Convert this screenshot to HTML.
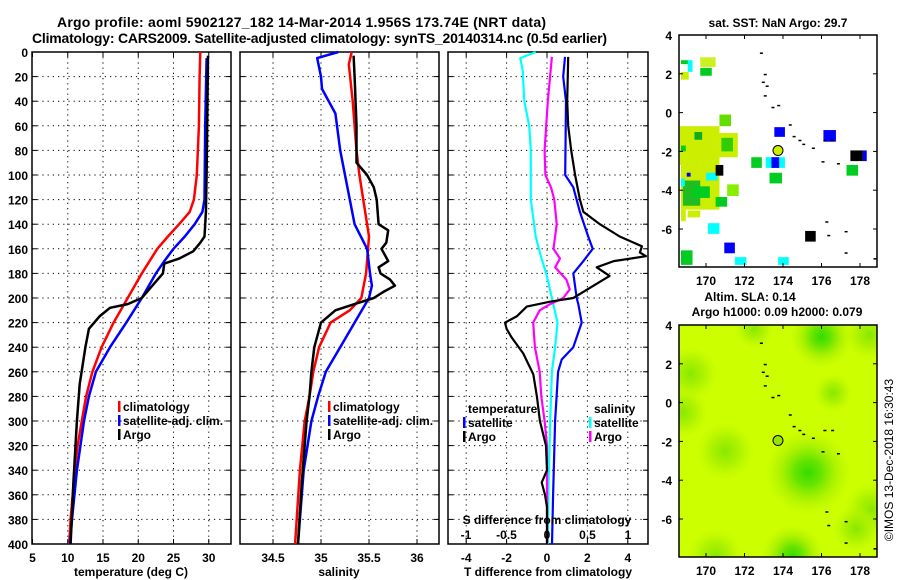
<!DOCTYPE html>
<html><head><meta charset="utf-8"><style>
html,body{margin:0;padding:0;background:#fff;}
svg{display:block;font-family:"Liberation Sans",sans-serif;font-weight:bold;}
</style></head><body>
<svg id="c" width="900" height="580" viewBox="0 0 900 580" xmlns="http://www.w3.org/2000/svg">
<defs>
<radialGradient id="g1"><stop offset="0" stop-color="#33dd00"/><stop offset="0.3" stop-color="#66e400"/><stop offset="0.65" stop-color="#a6f000" stop-opacity="0.8"/><stop offset="1" stop-color="#b8f400" stop-opacity="0"/></radialGradient>
<radialGradient id="g2"><stop offset="0" stop-color="#88e800"/><stop offset="0.5" stop-color="#a6f000" stop-opacity="0.8"/><stop offset="1" stop-color="#bcf600" stop-opacity="0"/></radialGradient>
<clipPath id="mclip"><rect x="679" y="325" width="198" height="232"/></clipPath>
</defs>
<text x="57" y="27" font-size="14" textLength="489">Argo profile: aoml 5902127_182 14-Mar-2014 1.956S 173.74E (NRT data)</text>
<text x="32" y="43" font-size="14" textLength="575">Climatology: CARS2009. Satellite-adjusted climatology: synTS_20140314.nc (0.5d earlier)</text>
<g id="p1"></g>
<g id="p2"></g>
<g id="p3"></g>
<g id="m1"></g>
<g id="m2"></g>
<text transform="translate(893,460) rotate(-90)" font-size="12" font-weight="normal" text-anchor="middle">©IMOS 13-Dec-2018 16:30:43</text>
</svg>
<script>
// ---------- data ----------
const depthTclim=[0,20,60,100,120,130,140,150,160,180,200,220,240,260,280,300,320,340,360,380,400];
const tempClim=[28.8,28.7,28.6,28.3,27.9,27.3,25.8,24.2,22.7,20.5,18.5,16.5,14.8,13.5,12.6,12.0,11.4,11.0,10.7,10.4,10.2];
const depthTsat=[5,60,120,130,140,150,160,170,180,200,220,240,260,280,300,340,380,400];
const tempSat=[29.7,29.5,29.4,29.1,28,26.6,25,23.7,22.5,20.5,18.3,16,14,13,12.3,11.3,10.6,10.3];
const depthTargo=[3,100,130,150,155,162,168,172,180,190,200,205,208,215,225,240,270,300,350,400];
const tempArgo=[29.9,29.7,29.6,29.4,28.8,27.8,25.8,23.7,23.5,22,20.5,18.5,16,14.5,13,12.5,11.7,11.3,10.8,10.4];

const depthSclim=[0,10,40,80,100,140,150,180,200,210,220,240,260,280,300,340,400];
const salClim=[35.32,35.29,35.33,35.37,35.40,35.48,35.50,35.47,35.42,35.3,35.1,34.98,34.92,34.88,34.83,34.78,34.73];
const depthSsat=[0,5,20,30,50,80,100,140,160,180,190,200,220,240,260,280,300,340,400];
const salSat=[35.18,34.96,35.0,35.01,35.15,35.2,35.25,35.35,35.48,35.51,35.53,35.5,35.35,35.2,35.05,34.97,34.9,34.82,34.76];
const depthSargo=[3,20,60,90,100,110,120,140,145,155,160,170,175,180,185,190,195,200,205,210,220,240,260,280,300,350,400];
const salArgo=[35.34,35.35,35.37,35.37,35.48,35.55,35.58,35.6,35.70,35.68,35.63,35.70,35.60,35.62,35.72,35.77,35.65,35.55,35.35,35.15,35.0,34.93,34.9,34.88,34.85,34.8,34.76];

const depthDsSat=[0,5,15,40,60,80,120,150,165,180,200,220,240,260,300,350,400];
const dSalSat=[-0.14,-0.33,-0.3,-0.28,-0.22,-0.2,-0.2,-0.14,-0.08,-0.01,0.06,0.13,0.1,0.06,0.04,0.02,0.01];
const depthDsArgo=[4,40,80,100,110,120,140,160,168,175,185,193,200,205,210,220,240,260,280,300,320,400];
const dSalArgo=[0.06,0.01,-0.03,-0.02,0.05,0.09,0.12,0.08,0.16,0.1,0.24,0.28,0.2,0.04,-0.09,-0.17,-0.15,-0.09,-0.07,-0.03,0,0];
const depthDtSat=[4,20,40,100,110,130,150,160,170,180,200,205,220,240,250,260,300,360,400];
const dTempSat=[0.89,0.8,0.94,0.9,1.3,1.63,2.04,2.26,1.8,1.3,1.47,1.55,1.72,1.3,0.73,0.55,0.4,0.3,0.25];
const depthDtArgo=[4,40,60,80,100,120,130,140,150,158,163,166,170,175,182,190,200,203,207,215,220,225,232,245,262,280,300,320,340,350,360,370,400];
const dTempArgo=[1.05,1.0,1.05,1.2,1.39,1.63,1.8,2.62,3.6,4.7,4.6,4.9,3.3,2.46,3.1,2.3,1.3,0.15,-1.0,-1.5,-2.08,-2.0,-1.75,-1.18,-0.68,-0.5,-0.35,-0.05,0,-0.26,-0.1,0,0];

const depthTicks=[0,20,40,60,80,100,120,140,160,180,200,220,240,260,280,300,320,340,360,380,400];
const tempTicks=[5,10,15,20,25,30];
const salTicks=[34.5,35,35.5,36];
const salTickLabels=["34.5","35","35.5","36"];
const dTTicks=[-4,-2,0,2,4];
const dSTicks=[-1,-0.5,0,0.5,1];
const dSTickLabels=["-1","-0.5","0","0.5","1"];
const lonTicks=[170,172,174,176,178];
const latTicks=[4,2,0,-2,-4,-6];
// map cells: lon0, lon1, lat0, lat1, colour
const sstCells=[
[168.7,169.1,2.5,2.7,"#00cc22"],[169.05,169.3,2.1,2.7,"#00ffff"],[168.7,169.1,1.7,2.1,"#ccee00"],
[169.7,170.5,2.35,2.85,"#ccf020"],[169.7,170.3,1.9,2.3,"#00cc22"],[170.7,171.3,-0.7,-0.1,"#66dd00"],
[168.65,170.7,-2.7,-0.7,"#ccee00"],[170.7,171.65,-2.3,-1.05,"#ccee00"],[170.8,171.4,-2.0,-1.3,"#33cc00"],
[169.4,169.8,-1.4,-1.0,"#11aa22"],[168.7,168.95,-2.0,-1.7,"#00cc22"],
[168.7,170.7,-5.0,-2.7,"#ccee00"],[168.8,169.7,-4.8,-3.5,"#22bb22"],[169.3,170.2,-4.4,-3.8,"#00cc22"],
[168.7,168.9,-3.8,-3.4,"#00ffff"],[170.0,170.6,-3.5,-3.1,"#00ffff"],[169.0,169.2,-3.3,-3.1,"#0000ff"],
[170.5,171.1,-4.85,-4.35,"#00cc22"],[171.1,171.7,-4.3,-3.7,"#88ee00"],[170.5,170.9,-3.25,-2.7,"#000000"],
[172.35,172.9,-2.85,-2.3,"#00cc22"],[173.1,174.1,-2.85,-2.3,"#00ffff"],[173.4,173.8,-2.85,-2.3,"#0000ff"],
[173.3,173.95,-3.65,-3.1,"#00cc22"],[173.55,174.1,-1.25,-0.75,"#0000ff"],[176.1,176.75,-1.5,-0.9,"#0000ff"],
[177.5,178.15,-2.5,-1.95,"#000000"],[178.15,178.35,-2.5,-1.95,"#0000ff"],[177.3,177.9,-3.25,-2.7,"#00cc22"],
[175.15,175.7,-6.65,-6.1,"#000000"],[170.1,170.7,-6.25,-5.7,"#00ffff"],[170.95,171.5,-7.25,-6.7,"#0000ff"],
[168.7,169.3,-7.85,-7.1,"#00cc22"],[171.5,172.1,-7.85,-7.45,"#00ffff"],[173.75,174.3,-7.85,-7.45,"#00ffff"],
[168.7,168.95,-5.6,-5.0,"#ccee00"],[169.05,169.7,-5.4,-5.05,"#ccee00"]];
const coastLon=[172.8,173.0,172.9,173.1,173.0,173.4,173.7,174.3,174.5,174.8,175.0,175.5,176.1,176.5,176.0,176.8,176.2,177.2,176.3,177.2,178.7];
const coastLat=[3.1,2.0,1.6,1.4,0.9,0.3,0.4,-0.6,-1.2,-1.4,-1.6,-1.8,-1.4,-1.4,-2.5,-2.6,-5.6,-6.1,-6.3,-7.2,-7.5];
const argoLon=173.74, argoLat=-1.956;
const slaBlobLon=[175.3,176.0,171.0,174.5,169.2,178.5,172.5,168.8,170.5,178.6,177.8,176.6];
const slaBlobLat=[-3.6,3.4,-2.5,-7.9,1.5,3.5,3.8,-0.5,-7.9,-5.5,-6.5,0.5];
const slaBlobR=[2.2,1.6,1.5,1.6,1.4,1.3,1.0,1.3,1.4,1.4,1.2,1.0];
const slaBlobStrong=[1,1,0,1,0,0,0,0,0,0,0,0];

// ---------- helpers ----------
const NS="http://www.w3.org/2000/svg";
function mk(parent,tag,attrs){const e=document.createElementNS(NS,tag);for(const k in attrs)e.setAttribute(k,attrs[k]);parent.appendChild(e);return e;}
const Y0=52,Y1=544;
const yD=d=>Y0+(d/400)*(Y1-Y0);
function panel(g,x0,x1,xs,ticks,labels,grid){
  mk(g,'rect',{x:x0,y:Y0,width:x1-x0,height:Y1-Y0,fill:'#fff',stroke:'#000','stroke-width':1.5});
  depthTicks.forEach(d=>{if(d>0&&d<400){const l=mk(g,'line',{x1:x0,x2:x1,y1:yD(d),y2:yD(d),stroke:'#000','stroke-dasharray':'1.2,4'});
    }
    mk(g,'line',{x1:x0,x2:x0+5,y1:yD(d),y2:yD(d),stroke:'#000'});mk(g,'line',{x1:x1-5,x2:x1,y1:yD(d),y2:yD(d),stroke:'#000'});});
  ticks.forEach((t,i)=>{const x=xs(t);
    if(grid&&x>x0+2&&x<x1-2){const l=mk(g,'line',{x1:x,x2:x,y1:Y0,y2:Y1,stroke:'#000','stroke-dasharray':'1.2,4'});
      }
    mk(g,'line',{x1:x,x2:x,y1:Y1-5,y2:Y1,stroke:'#000'});mk(g,'line',{x1:x,x2:x,y1:Y0,y2:Y0+5,stroke:'#000'});
    const t2=mk(g,'text',{x:x,y:562,'font-size':12,'text-anchor':'middle'});t2.textContent=labels[i];
    });
}
function line(g,xs,vals,deps,color,w,name){
  const d=vals.map((v,i)=>(i?'L':'M')+xs(v).toFixed(1)+','+yD(deps[i]).toFixed(1)).join('');
  const p=mk(g,'path',{d:d,fill:'none',stroke:color,'stroke-width':w,'stroke-linejoin':'round'});
  
}
function txt(g,x,y,s,sz,anchor,name){const t=mk(g,'text',{x:x,y:y,'font-size':sz,'text-anchor':anchor||'start'});t.textContent=s;
  return t;}
function legend(g,x,y,color,label){mk(g,'rect',{x:x,y:y-10,width:2.5,height:11,fill:color});
  txt(g,x+5,y,label,12,'start','legend-entry');}

// ---------- panel 1 ----------
const p1=document.getElementById('p1');
const xT=t=>32.5+(t-5)*7.05;
panel(p1,32,231,xT,tempTicks,tempTicks.map(String),true);
depthTicks.forEach(d=>{txt(p1,28,yD(d)+5,String(d),12,'end','y-tick-label');});
line(p1,xT,tempClim,depthTclim,'#ff0000',2.5,'climatology-temperature-line');
line(p1,xT,tempSat,depthTsat,'#0000ff',2.5,'satellite-temperature-line');
line(p1,xT,tempArgo,depthTargo,'#000000',2.5,'argo-temperature-line');
legend(p1,118,411,'#f00','climatology');legend(p1,118,425,'#00f','satellite-adj. clim.');legend(p1,118,439,'#000','Argo');
txt(p1,131,576,'temperature (deg C)',12,'middle','x-axis-title');

// ---------- panel 2 ----------
const p2=document.getElementById('p2');
const xS=s=>321+(s-35)*96;
panel(p2,240,439,xS,salTicks,salTickLabels,true);
line(p2,xS,salClim,depthSclim,'#ff0000',2.5,'climatology-salinity-line');
line(p2,xS,salSat,depthSsat,'#0000ff',2.5,'satellite-salinity-line');
line(p2,xS,salArgo,depthSargo,'#000000',2.5,'argo-salinity-line');
legend(p2,328,411,'#f00','climatology');legend(p2,328,425,'#00f','satellite-adj. clim.');legend(p2,328,439,'#000','Argo');
txt(p2,339,576,'salinity',12,'middle','x-axis-title');

// ---------- panel 3 ----------
const p3=document.getElementById('p3');
const xDT=t=>547+t*20.2, xDS=s=>547+s*81;
panel(p3,448,648,xDT,dTTicks,dTTicks.map(String),true);
line(p3,xDS,dSalSat,depthDsSat,'#00ffff',2.2,'satellite-salinity-diff-line');
line(p3,xDS,dSalArgo,depthDsArgo,'#ff00ff',2.2,'argo-salinity-diff-line');
line(p3,xDT,dTempSat,depthDtSat,'#0000ff',2.2,'satellite-temperature-diff-line');
line(p3,xDT,dTempArgo,depthDtArgo,'#000000',2.2,'argo-temperature-diff-line');
txt(p3,468,413,'temperature',12,'start','legend-title-temperature');
legend(p3,463,427,'#00f','satellite');legend(p3,463,441,'#000','Argo');
txt(p3,594,413,'salinity',12,'start','legend-title-salinity');
legend(p3,589,427,'#0ff','satellite');legend(p3,589,441,'#f0f','Argo');
txt(p3,547,524,'S difference from climatology',12,'middle','s-axis-title');
dSTicks.forEach((s,i)=>txt(p3,xDS(s),539,dSTickLabels[i],12,'middle','s-tick-label'));
txt(p3,548,576,'T difference from climatology',12,'middle','x-axis-title');

// ---------- maps ----------
const MX0=679,MX1=877;
const lonX=l=>706+(l-170)*19.25;
function mapFrame(g,top,bottom,latY,labelY){
  mk(g,'rect',{x:MX0,y:top,width:MX1-MX0,height:bottom-top,fill:'none',stroke:'#000','stroke-width':1.5});
  lonTicks.forEach(l=>{mk(g,'line',{x1:lonX(l),x2:lonX(l),y1:bottom-4,y2:bottom,stroke:'#000'});mk(g,'line',{x1:lonX(l),x2:lonX(l),y1:top,y2:top+4,stroke:'#000'});
    txt(g,lonX(l),labelY,String(l),12,'middle','lon-tick-label');});
  latTicks.forEach(a=>{mk(g,'line',{x1:MX0,x2:MX0+4,y1:latY(a),y2:latY(a),stroke:'#000'});mk(g,'line',{x1:MX1-4,x2:MX1,y1:latY(a),y2:latY(a),stroke:'#000'});
    txt(g,672,latY(a)+5,String(a),12,'end','lat-tick-label');});
  coastLon.forEach((l,i)=>{const c=mk(g,'rect',{x:lonX(l),y:latY(coastLat[i]),width:3,height:1.5,fill:'#000'});
    });
  const a=mk(g,'circle',{cx:lonX(argoLon),cy:latY(argoLat),r:5,fill:top<100?'#ccee00':'#99e400',stroke:'#000','stroke-width':1});
  
}
const m1=document.getElementById('m1');
const lat1=a=>35+(4-a)*19.4;
mk(m1,'rect',{x:MX0,y:35,width:MX1-MX0,height:232,fill:'#fff'});
sstCells.forEach(c=>{const r=mk(m1,'rect',{x:lonX(c[0]),y:lat1(c[3]),width:lonX(c[1])-lonX(c[0]),height:lat1(c[2])-lat1(c[3]),fill:c[4]});
  });
mapFrame(m1,35,267,lat1,285);
txt(m1,778,27,'sat. SST: NaN Argo: 29.7',12,'middle','sst-map-title');

const m2=document.getElementById('m2');
const lat2=a=>325+(4-a)*19.4;
const clip=mk(m2,'g',{'clip-path':'url(#mclip)'});
mk(clip,'rect',{x:MX0,y:325,width:MX1-MX0,height:232,fill:'#ccff00'});
slaBlobLon.forEach((l,i)=>{const r=slaBlobR[i]*19.3;
  const e=mk(clip,'ellipse',{cx:lonX(l),cy:lat2(slaBlobLat[i]),rx:r,ry:r,fill:slaBlobStrong[i]?'url(#g1)':'url(#g2)'});
  });
mapFrame(m2,325,557,lat2,575);
txt(m2,750,301,'Altim. SLA: 0.14',12,'middle','sla-map-title');
txt(m2,777,316,'Argo h1000: 0.09 h2000: 0.079',12,'middle','sla-map-subtitle');
</script>
</body></html>
